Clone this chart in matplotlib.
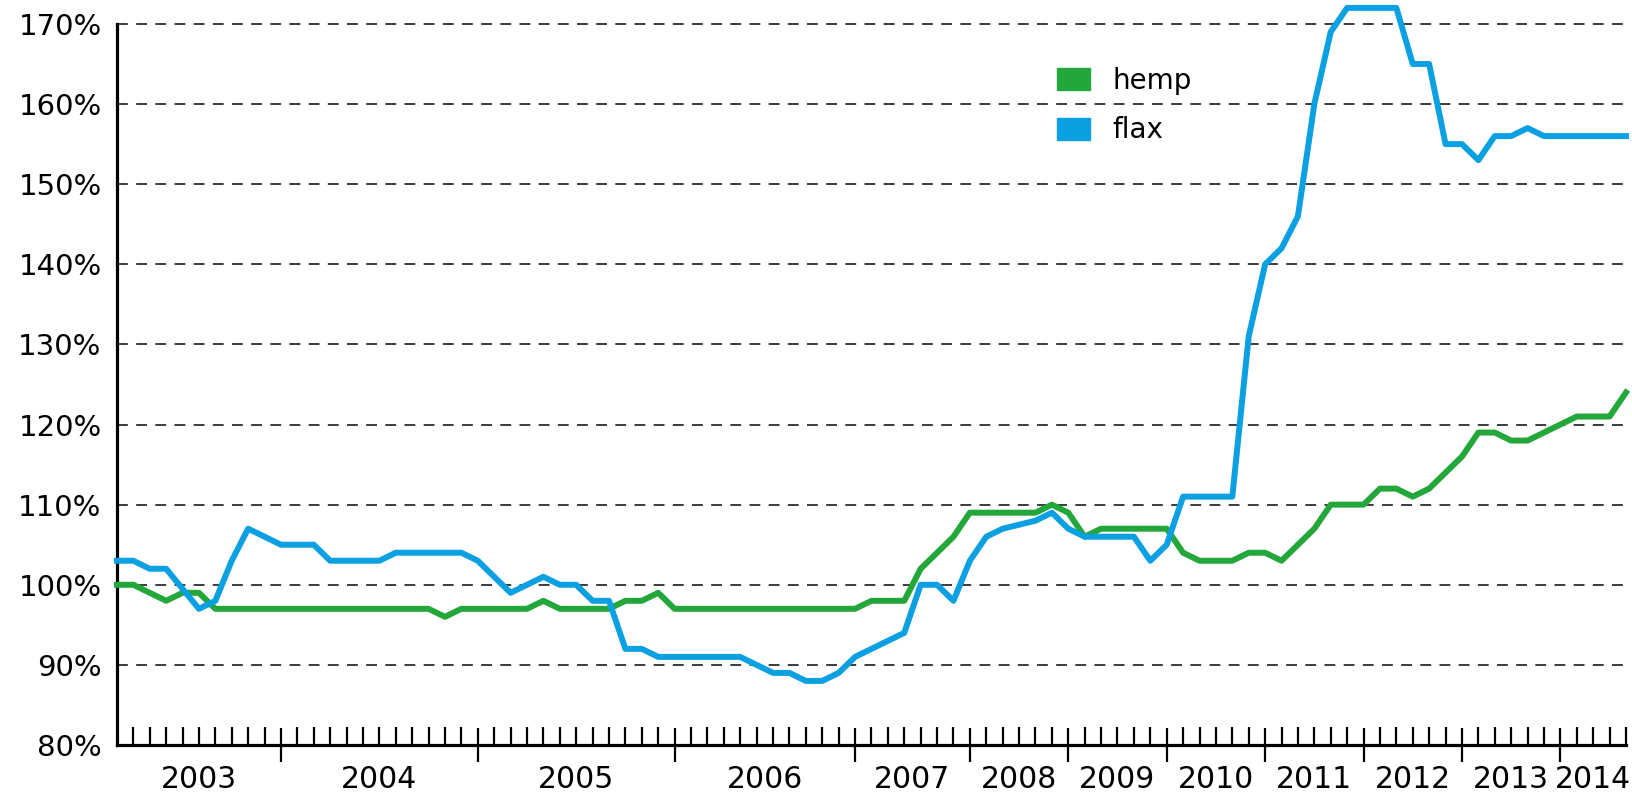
import matplotlib
matplotlib.use("Agg")
import matplotlib.pyplot as plt
from matplotlib.patches import Patch

# one value per tick on the time axis (index 0..92)
hemp = [100, 100, 99, 98, 99, 99, 97, 97, 97, 97,
        97, 97, 97, 97, 97, 97, 97, 97, 97, 97,
        96, 97, 97, 97, 97, 97, 98, 97, 97, 97,
        97, 98, 98, 99, 97, 97, 97, 97, 97, 97,
        97, 97, 97, 97, 97, 97, 98, 98, 98, 102,
        104, 106, 109, 109, 109, 109, 109, 110, 109, 106,
        107, 107, 107, 107, 107, 104, 103, 103, 103, 104,
        104, 103, 105, 107, 110, 110, 110, 112, 112, 111,
        112, 114, 116, 119, 119, 118, 118, 119, 120, 121,
        121, 121, 124]

flax = [103, 103, 102, 102, 99.5, 97, 98, 103, 107, 106,
        105, 105, 105, 103, 103, 103, 103, 104, 104, 104,
        104, 104, 103, 101, 99, 100, 101, 100, 100, 98,
        98, 92, 92, 91, 91, 91, 91, 91, 91, 90,
        89, 89, 88, 88, 89, 91, 92, 93, 94, 100,
        100, 98, 103, 106, 107, 107.5, 108, 109, 107, 106,
        106, 106, 106, 103, 105, 111, 111, 111, 111, 131,
        140, 142, 146, 160, 169, 172, 172, 172, 172, 165,
        165, 155, 155, 153, 156, 156, 157, 156, 156, 156,
        156, 156, 156]

years = ["2003", "2004", "2005", "2006", "2007", "2008",
         "2009", "2010", "2011", "2012", "2013", "2014"]
year_bounds = [0, 10, 22, 34, 45, 52, 58, 64, 70, 76, 82, 88, 92]
y_ticks = [80, 90, 100, 110, 120, 130, 140, 150, 160, 170]

green = "#23a63a"
blue = "#0aa0e2"

x = list(range(len(hemp)))

fig = plt.figure(figsize=(16.33, 7.97), dpi=100)
ax = fig.add_axes([0.0716, 0.0652, 0.9241, 0.9048])

ax.plot(x, hemp, color=green, lw=4.3, clip_on=False, zorder=3)
ax.plot(x, flax, color=blue, lw=4.3, clip_on=False, zorder=4)

ax.set_xlim(0, 92)
ax.set_ylim(80, 170)

# dashed gridlines
for v in y_ticks[1:]:
    ax.axhline(v, color="#1a1a1a", lw=1.2, linestyle=(0, (6.5, 5)), zorder=1, clip_on=False)

ax.set_yticks(y_ticks)
ax.set_yticklabels([f"{v}%" for v in y_ticks], fontsize=21)
ax.tick_params(axis="y", length=0, pad=11)

ax.set_xticks(year_bounds[1:-1])
ax.set_xticklabels([])
ax.set_xticks([i for i in range(1, 93) if i not in year_bounds[1:-1]], minor=True)
ax.tick_params(axis="x", which="major", direction="inout", length=24, width=1.6)
ax.tick_params(axis="x", which="minor", direction="in", length=13, width=1.6)

for i, yr in enumerate(years):
    c = (year_bounds[i] + year_bounds[i + 1]) / 2
    ax.annotate(yr, xy=(c, 0), xycoords=("data", "axes fraction"),
                xytext=(0, -25), textcoords="offset points",
                ha="center", va="center", fontsize=21.5)

for s in ["top", "right"]:
    ax.spines[s].set_visible(False)
for s in ["left", "bottom"]:
    ax.spines[s].set_linewidth(2.3)

handles = [Patch(color=green, label="hemp"), Patch(color=blue, label="flax")]
fig.legend(handles=handles, loc="upper left", bbox_to_anchor=(0.647, 0.916),
           frameon=False, fontsize=20, handlelength=1.2, handleheight=0.85,
           handletextpad=0.8, labelspacing=0.77, borderpad=0, borderaxespad=0)

fig.savefig("out.png", dpi=100)
